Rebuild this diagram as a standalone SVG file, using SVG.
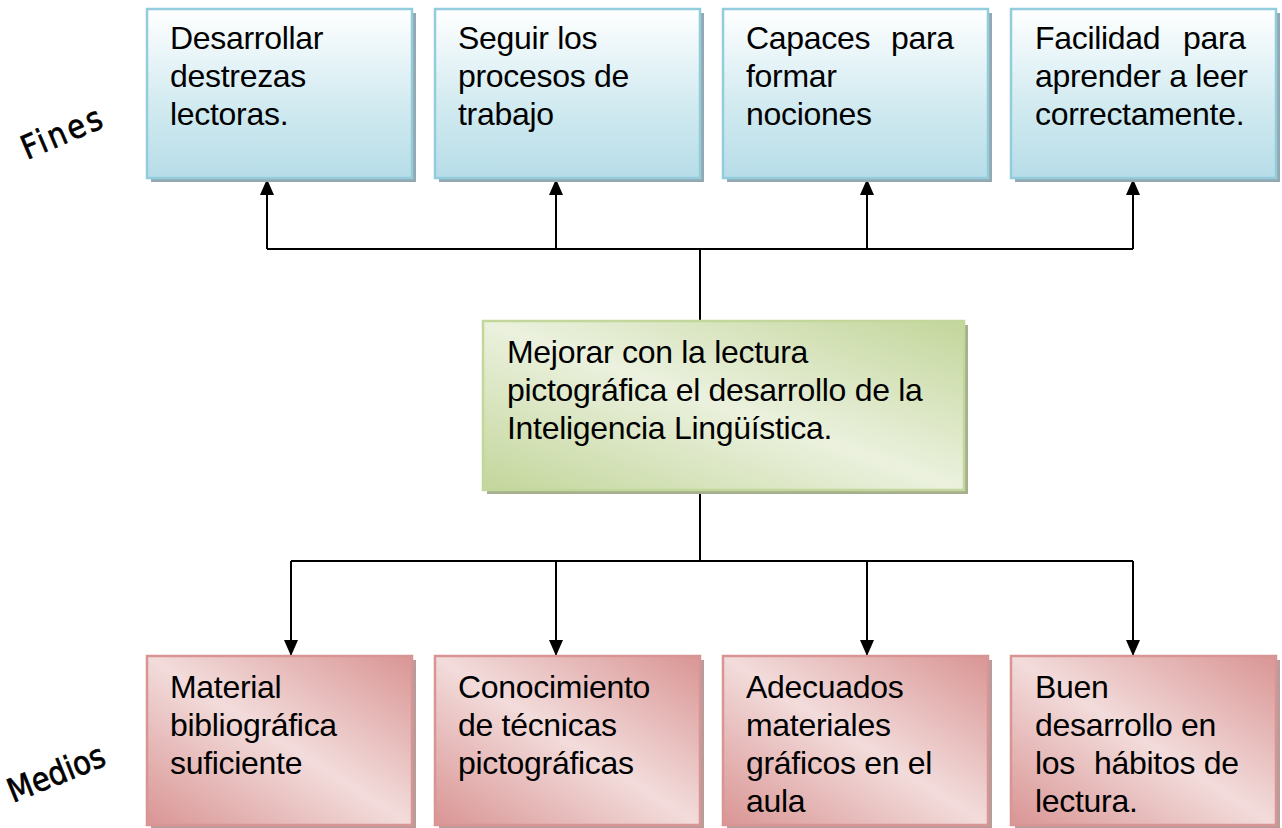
<svg xmlns="http://www.w3.org/2000/svg" width="1282" height="828" viewBox="0 0 1282 828">
<defs>
<linearGradient id="gBlue" x1="0" y1="0" x2="0" y2="1">
<stop offset="0" stop-color="#ffffff"/>
<stop offset="0.55" stop-color="#d3ebf1"/>
<stop offset="1" stop-color="#b7dde8"/>
</linearGradient>
<linearGradient id="gGreen" x1="1" y1="0" x2="0" y2="1">
<stop offset="0" stop-color="#c3d69b"/>
<stop offset="0.5" stop-color="#ebf1de"/>
<stop offset="1" stop-color="#c3d69b"/>
</linearGradient>
<linearGradient id="gPink" x1="1" y1="0" x2="0" y2="1">
<stop offset="0" stop-color="#d99594"/>
<stop offset="0.5" stop-color="#f2dcdb"/>
<stop offset="1" stop-color="#d99594"/>
</linearGradient>
<marker id="arr" markerUnits="userSpaceOnUse" markerWidth="16" markerHeight="14" viewBox="0 0 16 14" refX="16" refY="7" orient="auto">
<path d="M0,0 L16,7 L0,14 z" fill="#000"/>
</marker>
</defs>
<style>
.sh-b{fill:#93a9b1}
.sh-g{fill:#a6b08e}
.sh-p{fill:#b89c9c}
.bb{fill:url(#gBlue);stroke:#93cddd;stroke-width:2.5}
.bg{fill:url(#gGreen);stroke:#c3d69b;stroke-width:2.5}
.bp{fill:url(#gPink);stroke:#d99594;stroke-width:2.5}
.t{font-family:"Liberation Sans",Arial,sans-serif;font-size:32px;fill:#000;letter-spacing:-0.3px}
.lbl{font-family:"DejaVu Sans",sans-serif;font-size:33px;fill:#000;stroke:#000;stroke-width:0.7}
.c{fill:none;stroke:#000;stroke-width:2}
</style>

<text class="lbl" transform="translate(27,160) rotate(-23) scale(0.88,1)" letter-spacing="3">Fines</text>
<text class="lbl" transform="translate(13,803) rotate(-22) scale(0.88,1)">Medios</text>

<g id="connectors">
<path class="c" d="M700,321 V249 M267,249 H1133"/>
<line class="c" x1="267" y1="249" x2="267" y2="179" marker-end="url(#arr)"/>
<line class="c" x1="556" y1="249" x2="556" y2="179" marker-end="url(#arr)"/>
<line class="c" x1="867" y1="249" x2="867" y2="179" marker-end="url(#arr)"/>
<line class="c" x1="1133" y1="249" x2="1133" y2="179" marker-end="url(#arr)"/>
<path class="c" d="M700,490 V561 M291,561 H1133"/>
<line class="c" x1="291" y1="561" x2="291" y2="656" marker-end="url(#arr)"/>
<line class="c" x1="556" y1="561" x2="556" y2="656" marker-end="url(#arr)"/>
<line class="c" x1="867" y1="561" x2="867" y2="656" marker-end="url(#arr)"/>
<line class="c" x1="1133" y1="561" x2="1133" y2="656" marker-end="url(#arr)"/>
</g>

<g id="fin1">
<rect class="sh-b" x="151" y="13" width="265" height="169"/>
<rect class="bb" x="147" y="9" width="265" height="169"/>
<text class="t"><tspan x="170" y="49">Desarrollar</tspan><tspan x="170" y="87">destrezas</tspan><tspan x="170" y="125">lectoras.</tspan></text>
</g>
<g id="fin2">
<rect class="sh-b" x="439" y="13" width="265" height="169"/>
<rect class="bb" x="435" y="9" width="265" height="169"/>
<text class="t"><tspan x="458" y="49">Seguir los</tspan><tspan x="458" y="87">procesos de</tspan><tspan x="458" y="125">trabajo</tspan></text>
</g>
<g id="fin3">
<rect class="sh-b" x="727" y="13" width="265" height="169"/>
<rect class="bb" x="723" y="9" width="265" height="169"/>
<text class="t"><tspan x="746" y="49">Capaces</tspan><tspan x="891" y="49">para</tspan><tspan x="746" y="87">formar</tspan><tspan x="746" y="125">nociones</tspan></text>
</g>
<g id="fin4">
<rect class="sh-b" x="1015" y="13" width="265" height="169"/>
<rect class="bb" x="1011" y="9" width="265" height="169"/>
<text class="t"><tspan x="1035" y="49">Facilidad</tspan><tspan x="1183" y="49">para</tspan><tspan x="1035" y="87">aprender a leer</tspan><tspan x="1035" y="125">correctamente.</tspan></text>
</g>

<g id="objetivo">
<rect class="sh-g" x="487" y="325" width="481" height="169"/>
<rect class="bg" x="483" y="321" width="481" height="169"/>
<text class="t"><tspan x="507" y="363">Mejorar con la lectura</tspan><tspan x="507" y="401">pictográfica el desarrollo de la</tspan><tspan x="507" y="439">Inteligencia Lingüística.</tspan></text>
</g>

<g id="medio1">
<rect class="sh-p" x="151" y="660" width="265" height="169"/>
<rect class="bp" x="147" y="656" width="265" height="169"/>
<text class="t"><tspan x="170" y="698">Material</tspan><tspan x="170" y="736">bibliográfica</tspan><tspan x="170" y="774">suficiente</tspan></text>
</g>
<g id="medio2">
<rect class="sh-p" x="439" y="660" width="265" height="169"/>
<rect class="bp" x="435" y="656" width="265" height="169"/>
<text class="t"><tspan x="458" y="698">Conocimiento</tspan><tspan x="458" y="736">de técnicas</tspan><tspan x="458" y="774">pictográficas</tspan></text>
</g>
<g id="medio3">
<rect class="sh-p" x="727" y="660" width="265" height="169"/>
<rect class="bp" x="723" y="656" width="265" height="169"/>
<text class="t"><tspan x="746" y="698">Adecuados</tspan><tspan x="746" y="736">materiales</tspan><tspan x="746" y="774">gráficos en el</tspan><tspan x="746" y="812">aula</tspan></text>
</g>
<g id="medio4">
<rect class="sh-p" x="1015" y="660" width="265" height="169"/>
<rect class="bp" x="1011" y="656" width="265" height="169"/>
<text class="t"><tspan x="1035" y="698">Buen</tspan><tspan x="1035" y="736">desarrollo en</tspan><tspan x="1035" y="774">los</tspan><tspan x="1094" y="774">hábitos de</tspan><tspan x="1035" y="812">lectura.</tspan></text>
</g>
</svg>
